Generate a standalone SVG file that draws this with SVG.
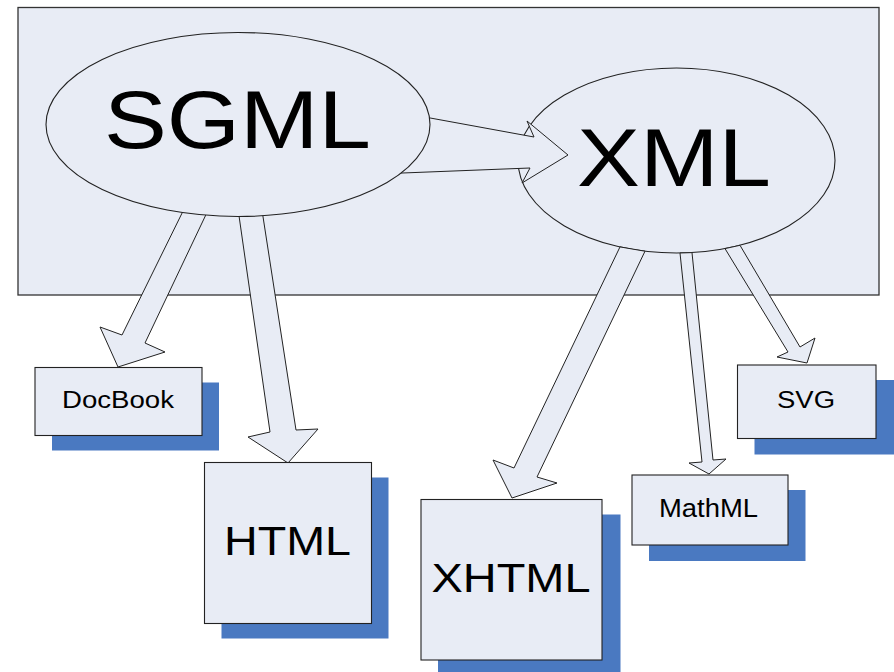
<svg xmlns="http://www.w3.org/2000/svg" width="894" height="672" viewBox="0 0 894 672">
<style>
.bg{fill:#e8ecf5;stroke:#333;stroke-width:1.3}
.sh{fill:#4a79c1}
.nd{fill:#e8ecf5;stroke:#222;stroke-width:1.1}
.ar{fill:#e8ecf5;stroke:#222;stroke-width:1;stroke-linejoin:miter}
.t{font-family:"Liberation Sans",Arial,sans-serif;fill:#000;text-anchor:middle}
</style>
<rect x="0" y="0" width="894" height="672" fill="#ffffff"/>
<rect id="frame" class="bg" x="18" y="7.5" width="861" height="287.5"/>
<g id="xml">
<ellipse class="nd" cx="676.5" cy="160.5" rx="158.5" ry="92.5"/>
<text class="t" x="674" y="186" font-size="82" textLength="194" lengthAdjust="spacingAndGlyphs">XML</text>
</g>
<g id="connectors">
<polygon class="ar" points="410,114.3 534,137 527,121 568,155 522,183 530,168 385,173.7"/>
<polygon class="ar" points="188,201 122,335 100,327 118,367 165,352 145,343 211,204"/>
<polygon class="ar" points="237.6,206 270,432 248,437 288,463 318,429 296,430 261.5,207"/>
<polygon class="ar" points="620,246.9 514,468 493,460 512,498 557,483 537,477 645,251.2"/>
<polygon class="ar" points="680,253 702,462 689,463 709,474 726,459 713,460 692,252.6"/>
<polygon class="ar" points="725,248.6 788,352 777,357 807,363 815,338 800,347 740,245.3"/>
</g>
<g id="sgml">
<ellipse class="nd" cx="238" cy="124.5" rx="192" ry="92"/>
<text class="t" x="237.5" y="148" font-size="81" textLength="267" lengthAdjust="spacingAndGlyphs">SGML</text>
</g>
<g id="docbook">
<rect class="sh" x="52" y="382.5" width="167" height="68"/>
<rect class="nd" x="35" y="367.5" width="167" height="68"/>
<text class="t" x="118" y="408" font-size="23" textLength="112" lengthAdjust="spacingAndGlyphs">DocBook</text>
</g>
<g id="html">
<rect class="sh" x="221.5" y="477.5" width="167" height="161"/>
<rect class="nd" x="204.5" y="462.5" width="167" height="161"/>
<text class="t" x="287.5" y="555" font-size="40" textLength="127" lengthAdjust="spacingAndGlyphs">HTML</text>
</g>
<g id="xhtml">
<rect class="sh" x="438" y="514.5" width="182.5" height="161"/>
<rect class="nd" x="421" y="499.5" width="181" height="160.5"/>
<text class="t" x="511" y="592" font-size="40" textLength="159" lengthAdjust="spacingAndGlyphs">XHTML</text>
</g>
<g id="mathml">
<rect class="sh" x="649" y="490" width="156.5" height="71"/>
<rect class="nd" x="632" y="475" width="156" height="70"/>
<text class="t" x="708.5" y="517" font-size="25" textLength="99" lengthAdjust="spacingAndGlyphs">MathML</text>
</g>
<g id="svg">
<rect class="sh" x="754.5" y="380" width="139.5" height="74.5"/>
<rect class="nd" x="737.5" y="365" width="138.5" height="73.5"/>
<text class="t" x="806" y="408" font-size="23" textLength="58" lengthAdjust="spacingAndGlyphs">SVG</text>
</g>
</svg>
